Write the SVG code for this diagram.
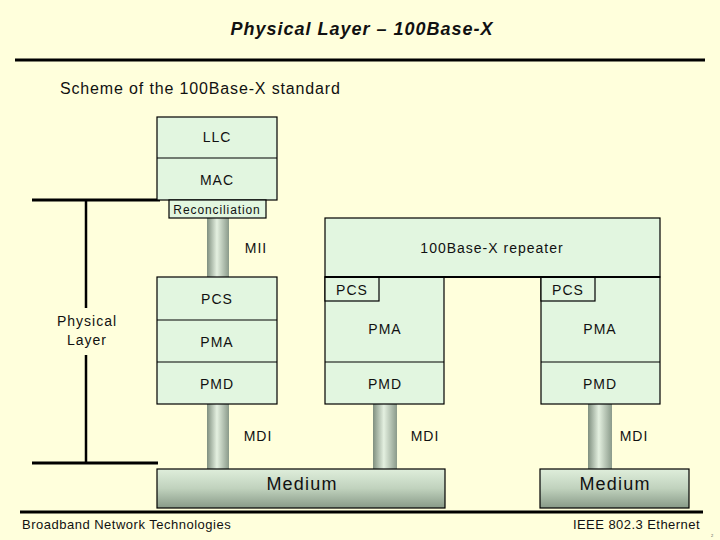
<svg xmlns="http://www.w3.org/2000/svg" width="720" height="540" viewBox="0 0 720 540">
<defs>
<linearGradient id="pipe" x1="0" y1="0" x2="1" y2="0">
<stop offset="0" stop-color="#7f8f7f"/>
<stop offset="0.45" stop-color="#e4f0e0"/>
<stop offset="1" stop-color="#8a9a8a"/>
</linearGradient>
<linearGradient id="med" x1="0" y1="0" x2="0" y2="1">
<stop offset="0" stop-color="#dfeedb"/>
<stop offset="0.5" stop-color="#c0d2bd"/>
<stop offset="1" stop-color="#889a88"/>
</linearGradient>
<style>
.box{fill:#e2f6e0;stroke:#000;stroke-width:1.2}
.pipe{fill:url(#pipe);stroke:none}
.med{fill:url(#med);stroke:#000;stroke-width:1.2}
.t{font-family:"Liberation Sans",Arial,sans-serif;font-size:14px;fill:#111;text-anchor:middle;letter-spacing:1px}
.s{font-family:"Liberation Sans",Arial,sans-serif;font-size:12px;fill:#111;text-anchor:middle;letter-spacing:0.9px}
.m{font-family:"Liberation Sans",Arial,sans-serif;font-size:18px;fill:#111;text-anchor:middle;letter-spacing:1.2px}
.ln{stroke:#000;stroke-width:3;fill:none}
</style>
</defs>
<rect width="720" height="540" fill="#ffffdc"/>
<text x="362" y="35" font-family="Liberation Sans,Arial,sans-serif" font-size="18" font-weight="bold" font-style="italic" text-anchor="middle" letter-spacing="1" fill="#111">Physical Layer – 100Base-X</text>
<line x1="15" y1="60" x2="705" y2="60" stroke="#000" stroke-width="3"/>
<text x="60" y="94" font-family="Liberation Sans,Arial,sans-serif" font-size="16" letter-spacing="0.85" fill="#111">Scheme of the 100Base-X standard</text>

<g id="connectors">
<rect class="pipe" x="207" y="218" width="22" height="59"/>
<rect class="pipe" x="207" y="404" width="22" height="66"/>
<rect class="pipe" x="373" y="404" width="24" height="66"/>
<rect class="pipe" x="588" y="404" width="24" height="66"/>
<text class="t" x="256" y="253">MII</text>
<text class="t" x="258" y="441">MDI</text>
<text class="t" x="425" y="441">MDI</text>
<text class="t" x="634" y="441">MDI</text>
</g>

<g id="physical-layer-bracket">
<line class="ln" x1="32" y1="200" x2="160" y2="200"/>
<line class="ln" x1="32" y1="463" x2="158" y2="463"/>
<line x1="86" y1="200" x2="86" y2="308" stroke="#000" stroke-width="2.5"/>
<line x1="86" y1="355" x2="86" y2="463" stroke="#000" stroke-width="2.5"/>
<text class="t" x="87" y="326">Physical</text>
<text class="t" x="87" y="345">Layer</text>
</g>

<g id="llc-mac">
<rect class="box" x="157" y="117" width="120" height="83"/>
<line x1="157" y1="158" x2="277" y2="158" stroke="#000" stroke-width="1.2"/>
<text class="t" x="217" y="142">LLC</text>
<text class="t" x="217" y="185">MAC</text>
</g>
<g id="reconciliation">
<rect class="box" x="169" y="200" width="97" height="18"/>
<text class="s" x="217" y="214">Reconciliation</text>
</g>

<g id="left-stack">
<rect class="box" x="157" y="277" width="120" height="127"/>
<line x1="157" y1="320" x2="277" y2="320" stroke="#000" stroke-width="1.2"/>
<line x1="157" y1="362" x2="277" y2="362" stroke="#000" stroke-width="1.2"/>
<text class="t" x="217" y="304">PCS</text>
<text class="t" x="217" y="347">PMA</text>
<text class="t" x="217" y="389">PMD</text>
</g>

<g id="repeater">
<rect class="box" x="325" y="218" width="335" height="59"/>
<text class="t" x="492" y="253">100Base-X repeater</text>
</g>

<g id="repeater-left">
<rect class="box" x="325" y="277" width="119" height="127"/>
<line x1="325" y1="362" x2="444" y2="362" stroke="#000" stroke-width="1.2"/>
<rect class="box" x="325" y="277" width="54" height="24"/>
<text class="t" x="352" y="295">PCS</text>
<text class="t" x="385" y="334">PMA</text>
<text class="t" x="385" y="389">PMD</text>
</g>

<g id="repeater-right">
<rect class="box" x="541" y="277" width="119" height="127"/>
<line x1="541" y1="362" x2="660" y2="362" stroke="#000" stroke-width="1.2"/>
<rect class="box" x="541" y="277" width="54" height="24"/>
<text class="t" x="568" y="295">PCS</text>
<text class="t" x="600" y="334">PMA</text>
<text class="t" x="600" y="389">PMD</text>
</g>
<line x1="325" y1="277" x2="660" y2="277" stroke="#000" stroke-width="2"/>

<g id="medium-left">
<rect class="med" x="157" y="469" width="288" height="39"/>
<text class="m" x="302" y="490">Medium</text>
</g>
<g id="medium-right">
<rect class="med" x="540" y="469" width="149" height="39"/>
<text class="m" x="615" y="490">Medium</text>
</g>

<line x1="20" y1="512" x2="703" y2="512" stroke="#000" stroke-width="3"/>
<text x="22" y="529" font-family="Liberation Sans,Arial,sans-serif" font-size="13" letter-spacing="0.5" fill="#111">Broadband Network Technologies</text>
<text x="700" y="529" font-family="Liberation Sans,Arial,sans-serif" font-size="13" letter-spacing="0.45" fill="#111" text-anchor="end">IEEE 802.3 Ethernet</text>
<text x="711" y="537" font-family="Liberation Sans,Arial,sans-serif" font-size="4" fill="#555">2</text>
</svg>
